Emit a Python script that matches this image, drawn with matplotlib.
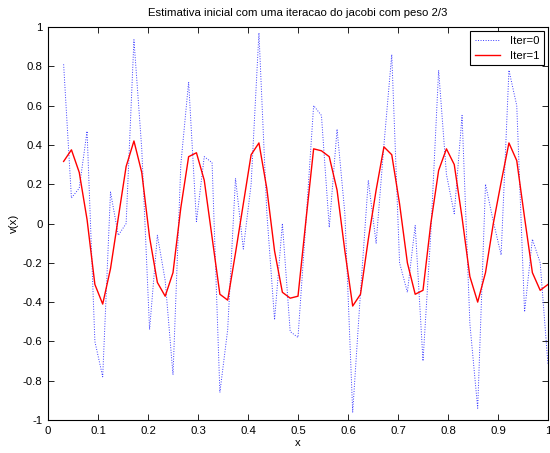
import numpy as np
import matplotlib
matplotlib.use("Agg")
import matplotlib.pyplot as plt

plt.rcParams['font.family'] = ['Liberation Sans', 'DejaVu Sans']

# grid index k -> x = k/64 (k = 2..64)
k_index = list(range(2, 65))

iter0 = [0.81, 0.13, 0.18, 0.47, -0.60, -0.78, 0.16, -0.06, 0.00, 0.935,
         0.38, -0.54, -0.06, -0.29, -0.77, 0.30, 0.72, 0.01, 0.34, 0.31,
         -0.86, -0.54, 0.23, -0.13, 0.20, 0.97, 0.06, -0.49, 0.00, -0.55,
         -0.58, 0.00, 0.60, 0.55, -0.02, 0.48, 0.05, -0.96, -0.35, 0.22,
         -0.10, 0.40, 0.86, -0.20, -0.35, -0.01, -0.70, -0.05, 0.78, 0.25,
         0.05, 0.55, -0.51, -0.94, 0.20, 0.01, -0.16, 0.78, 0.60, -0.45,
         -0.08, -0.20, -0.72]

iter1 = [0.316, 0.375, 0.26, 0.02, -0.31, -0.41, -0.23, 0.03, 0.29, 0.42,
         0.26, -0.07, -0.30, -0.37, -0.25, 0.08, 0.34, 0.36, 0.22, -0.07,
         -0.36, -0.39, -0.15, 0.10, 0.35, 0.41, 0.18, -0.14, -0.35, -0.38,
         -0.37, 0.01, 0.38, 0.37, 0.34, 0.17, -0.14, -0.42, -0.36, -0.08,
         0.17, 0.39, 0.35, 0.10, -0.20, -0.36, -0.34, 0.00, 0.27, 0.38,
         0.30, 0.03, -0.27, -0.40, -0.25, 0.00, 0.21, 0.41, 0.32, 0.03,
         -0.25, -0.34, -0.31]

x = np.array(k_index) / 64.0

xticks = [0, 0.1, 0.2, 0.3, 0.4, 0.5, 0.6, 0.7, 0.8, 0.9, 1]
xticklabels = ['0', '0.1', '0.2', '0.3', '0.4', '0.5', '0.6', '0.7', '0.8', '0.9', '1']
yticks = [-1, -0.8, -0.6, -0.4, -0.2, 0, 0.2, 0.4, 0.6, 0.8, 1]
yticklabels = ['-1', '-0.8', '-0.6', '-0.4', '-0.2', '0',
               '0.2', '0.4', '0.6', '0.8', '1']

fs = 8.2
fig = plt.figure(figsize=(5.5, 4.53), dpi=100)
ax = fig.add_axes([48/550, 33/453, 500/550, 393/453])

ax.plot(x, iter0, linestyle=(0, (1, 1.6)), color='#3a3aff', linewidth=0.7, label='Iter=0')
ax.plot(x, iter1, '-', color='#ff0000', linewidth=1.0, label='Iter=1')

ax.set_xlim(0, 1)
ax.set_ylim(-1, 1)
ax.set_xticks(xticks)
ax.set_xticklabels(xticklabels)
ax.set_yticks(yticks)
ax.set_yticklabels(yticklabels)
ax.tick_params(direction='in', top=True, right=True, labelsize=fs, length=4, width=0.6, pad=4)
for s in ax.spines.values():
    s.set_linewidth(0.8)

ax.set_title('Estimativa inicial com uma iteracao do jacobi com peso 2/3', fontsize=fs, pad=8)
ax.set_xlabel('x', fontsize=fs, labelpad=2)
ax.set_ylabel('v(x)', fontsize=fs, labelpad=3)

leg = ax.legend(loc='upper right', fontsize=fs, frameon=True, fancybox=False,
                edgecolor='black', framealpha=1, borderaxespad=0.35,
                handlelength=2.2, handletextpad=0.9, borderpad=0.4, labelspacing=0.45)
leg.get_frame().set_linewidth(0.8)

fig.savefig('out.png', dpi=100)
